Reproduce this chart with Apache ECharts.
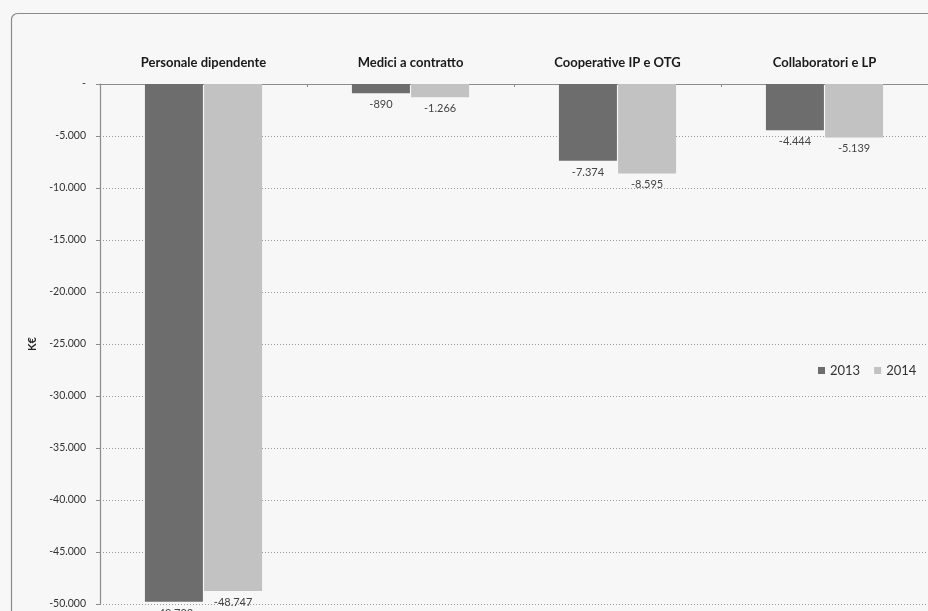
<!DOCTYPE html>
<html>
<head>
<meta charset="utf-8">
<script src="https://cdn.jsdelivr.net/npm/echarts@6/dist/echarts.min.js"></script>
<style>
  html, body { margin: 0; padding: 0; background: #f7f7f7; }
  #chart { width: 928px; height: 611px; }
</style>
</head>
<body>
<div id="chart"></div>
<script>
// Cost categories (thousand euro), change by year
const categories = ['Personale dipendente', 'Medici a contratto', 'Cooperative IP e OTG', 'Collaboratori e LP'];
const values2013 = [-49793, -890, -7374, -4444];
const values2014 = [-48747, -1266, -8595, -5139];
const seriesNames = ['2013', '2014'];
const axisName = 'K€';

// Italian thousands separator; zero shown as a dash (accounting style)
function fmt(v) {
  if (v === 0) return '-';
  const s = Math.abs(Math.round(v)).toString().replace(/\B(?=(\d{3})+(?!\d))/g, '.');
  return (v < 0 ? '-' : '') + s;
}

const FONT = 'Lato, "Open Sans", sans-serif';
const chart = echarts.init(document.getElementById('chart'), null, { renderer: 'canvas' });

const labelStyle = {
  show: true,
  position: 'bottom',
  distance: 6,
  fontSize: 11,
  fontFamily: FONT,
  color: '#444',
  formatter: p => fmt(p.value)
};

chart.setOption({
  backgroundColor: '#f7f7f7',
  animation: false,
  graphic: [{
    type: 'rect',
    shape: { x: 11.5, y: 13.5, width: 1000, height: 700, r: 6 },
    style: { fill: 'none', stroke: '#8a8a8a', lineWidth: 1.2 },
    silent: true
  }],
  grid: { left: 100, top: 84, right: 0, bottom: 7, containLabel: false },
  legend: {
    data: seriesNames,
    left: 813,
    top: 359,
    icon: 'rect',
    itemWidth: 7,
    itemHeight: 7,
    itemGap: 14,
    textStyle: { fontSize: 13, fontFamily: FONT, color: '#333' }
  },
  xAxis: {
    type: 'category',
    position: 'top',
    data: categories,
    axisLine: { lineStyle: { color: '#8c8c8c', width: 1.2 } },
    axisTick: { show: true, length: 3, inside: true, lineStyle: { color: '#8c8c8c' } },
    axisLabel: {
      margin: 15,
      fontSize: 13,
      fontWeight: 'bold',
      fontFamily: FONT,
      color: '#1a1a1a'
    },
    splitLine: { show: false }
  },
  yAxis: {
    type: 'value',
    min: -50000,
    max: 0,
    interval: 5000,
    name: axisName,
    nameLocation: 'middle',
    nameRotate: 90,
    nameGap: 62,
    nameTextStyle: { fontSize: 11, fontWeight: 'bold', fontFamily: FONT, color: '#222' },
    axisLine: { show: true, lineStyle: { color: '#8c8c8c', width: 1.2 } },
    axisTick: { show: true, length: 4, lineStyle: { color: '#8c8c8c' } },
    axisLabel: {
      margin: 14,
      fontSize: 10.5,
      fontFamily: FONT,
      color: '#333',
      formatter: v => fmt(v)
    },
    splitLine: { show: true, lineStyle: { color: '#9a9a9a', type: [1, 2], width: 1 } }
  },
  series: [
    {
      name: seriesNames[0],
      type: 'bar',
      data: values2013,
      barWidth: 58,
      barGap: '2%',
      itemStyle: { color: '#6d6d6d' },
      label: labelStyle
    },
    {
      name: seriesNames[1],
      type: 'bar',
      data: values2014,
      barWidth: 58,
      itemStyle: { color: '#c2c2c2' },
      label: labelStyle
    }
  ]
});
</script>
</body>
</html>
